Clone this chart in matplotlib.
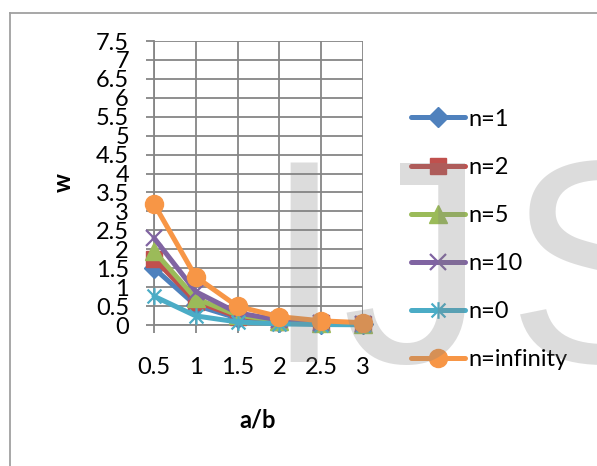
import matplotlib
matplotlib.use("Agg")
import matplotlib.pyplot as plt
from matplotlib.path import Path
from matplotlib.lines import Line2D

plt.rcParams['font.family'] = ['Lato', 'DejaVu Sans']

categories = ["0.5", "1", "1.5", "2", "2.5", "3"]
n1 = [1.50, 0.52, 0.18, 0.07, 0.03, 0.015]
n2 = [1.75, 0.62, 0.22, 0.09, 0.04, 0.02]
n5 = [1.95, 0.70, 0.26, 0.11, 0.05, 0.025]
n10 = [2.30, 0.88, 0.32, 0.13, 0.06, 0.03]
n0 = [0.76, 0.24, 0.08, 0.03, 0.012, 0.006]
ninf = [3.20, 1.27, 0.49, 0.22, 0.11, 0.06]
series_names = ["n=1", "n=2", "n=5", "n=10", "n=0", "n=infinity"]
yticks = [0, 0.5, 1, 1.5, 2, 2.5, 3, 3.5, 4, 4.5, 5, 5.5, 6, 6.5, 7, 7.5]
ytick_labels = ["0", "0.5", "1", "1.5", "2", "2.5", "3", "3.5", "4", "4.5",
                "5", "5.5", "6", "6.5", "7", "7.5"]

W, H = 597, 466
FS = 17
fig = plt.figure(figsize=(W / 100, H / 100), dpi=100)
ax = fig.add_axes([154 / W, 1 - 325 / H, (363 - 154) / W, (325 - 41) / H])

star = Path([(-1, -1), (1, 1), (-1, 1), (1, -1), (0, -1.2), (0, 1.2)],
            [Path.MOVETO, Path.LINETO, Path.MOVETO, Path.LINETO, Path.MOVETO, Path.LINETO])

styles = [
    dict(color="#4F81BD", marker="D", ms=10),
    dict(color="#C0504D", marker="s", ms=12),
    dict(color="#9BBB59", marker="^", ms=13),
    dict(color="#8064A2", marker="x", ms=12, mew=1.6),
    dict(color="#4BACC6", marker=star, ms=12, mew=1.6),
    dict(color="#F79646", marker="o", ms=13),
]
x = list(range(len(categories)))
for vals, name, st in zip([n1, n2, n5, n10, n0, ninf], series_names, styles):
    ax.plot(x, vals, color=st["color"], lw=3.6, marker=st["marker"],
            ms=st["ms"], mew=st.get("mew", 1), mec=st["color"], mfc=st["color"],
            label=name, clip_on=False, zorder=3, solid_capstyle="round")

gc = "#868686"
ax.set_xlim(0, len(categories) - 1)
ax.set_ylim(0, 7.5)
ax.set_xticks(x)
ax.set_xticklabels(categories)
ax.set_yticks(yticks)
ax.set_yticklabels(ytick_labels)
ax.grid(True, color=gc, lw=1.3)
ax.set_axisbelow(True)
for s in ["top", "right"]:
    ax.spines[s].set_visible(False)
for s in ["left", "bottom"]:
    ax.spines[s].set_color(gc)
    ax.spines[s].set_linewidth(1.3)
ax.tick_params(axis="both", colors=gc, width=1.3, length=6, labelcolor="black", labelsize=FS)
ax.tick_params(axis="y", pad=12)
ax.tick_params(axis="x", pad=17)

fig.text(258 / W, 1 - 420 / H, "a/b", ha="center", va="center", fontsize=FS, fontweight="bold")
fig.text(63 / W, 1 - 183 / H, "w", ha="center", va="center", fontsize=FS, fontweight="bold", rotation=90)

leg = ax.legend(loc="center left", bbox_to_anchor=(411 / W, 1 - 239.5 / H),
                bbox_transform=fig.transFigure, frameon=False, fontsize=FS,
                handlelength=2.3, handletextpad=0.15, labelspacing=1.15,
                borderpad=0, borderaxespad=0)

# page border
fig.add_artist(Line2D([9.5 / W, 9.5 / W], [0, 1 - 12.5 / H], color="#a0a0a0", lw=1.3))
fig.add_artist(Line2D([9.5 / W, 1], [1 - 12.5 / H, 1 - 12.5 / H], color="#a0a0a0", lw=1.3))

# watermark letters
for letter, lx in [("I", 263), ("J", 341), ("S", 507)]:
    fig.text(lx / W, 1 - 362 / H, letter, family="Liberation Sans", fontsize=208,
             color="#808080", alpha=0.27, ha="left", va="baseline", zorder=10)

fig.savefig("out.png", dpi=100)
